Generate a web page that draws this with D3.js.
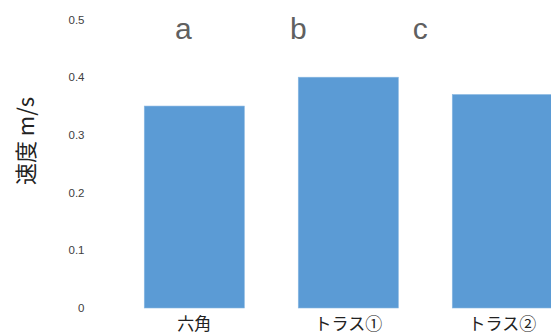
<!DOCTYPE html>
<html>
<head>
<meta charset="utf-8">
<script src="https://cdn.jsdelivr.net/npm/d3@7"></script>
<style>
  body { margin: 0; background: #fff; }
  svg { display: block; }
</style>
</head>
<body>
<svg width="551" height="336"></svg>
<script>
// data
var categories = ["六角", "トラス①", "トラス②"];
var speeds = [0.35, 0.40, 0.37];
var yTicks = [0, 0.1, 0.2, 0.3, 0.4, 0.5];
var marks = ["a", "b", "c"];
var markPos = [0.39, 0.0, -0.32]; // offset in bar widths from bar's left edge

var svg = d3.select("svg");

var x = d3.scaleBand()
    .domain(categories)
    .range([117.3, 579.3])
    .paddingInner(0.35)
    .paddingOuter(0.175);

var y = d3.scaleLinear()
    .domain([0, 0.5])
    .range([308, 19.5]);

// bars
svg.append("g").selectAll("rect")
    .data(categories)
  .enter().append("rect")
    .attr("x", function(d) { return x(d); })
    .attr("y", function(d, i) { return y(speeds[i]); })
    .attr("width", x.bandwidth())
    .attr("height", function(d, i) { return y(0) - y(speeds[i]); })
    .attr("fill", "#5b9bd5")
    .attr("stroke", "#8ab8e2")
    .attr("stroke-width", 0.6);

// y axis (labels only)
var yAxis = svg.append("g")
    .attr("transform", "translate(84.5,0)")
    .call(d3.axisLeft(y).tickValues(yTicks).tickSize(0).tickPadding(0)
        .tickFormat(function(d) { return d === 0 ? "0" : d3.format(".1f")(d); }));
yAxis.select(".domain").remove();
yAxis.selectAll("text")
    .attr("fill", "#404040")
    .style("font-family", "'Liberation Sans', Arial, sans-serif")
    .style("font-size", "11.5px");

// x axis (labels only)
var xAxis = svg.append("g")
    .attr("transform", "translate(0,308)")
    .call(d3.axisBottom(x).tickSize(0).tickPadding(10));
xAxis.select(".domain").remove();
xAxis.selectAll("text")
    .attr("fill", "#222")
    .style("font-family", "'Noto Sans CJK JP', sans-serif")
    .style("font-size", "17px");

// y title
svg.append("text")
    .attr("transform", "translate(34,141) rotate(-90)")
    .attr("text-anchor", "middle")
    .attr("fill", "#222")
    .style("font-family", "'Noto Sans CJK JP', sans-serif")
    .style("font-size", "22px")
    .text("速度 m/s");

// significance letters
svg.append("g").selectAll("text")
    .data(marks)
  .enter().append("text")
    .attr("x", function(d, i) { return x(categories[i]) + markPos[i] * x.bandwidth(); })
    .attr("y", 38.5)
    .attr("text-anchor", "middle")
    .attr("fill", "#606060")
    .style("font-family", "'Liberation Sans', Arial, sans-serif")
    .style("font-size", "30px")
    .text(function(d) { return d; });
</script>
</body>
</html>
